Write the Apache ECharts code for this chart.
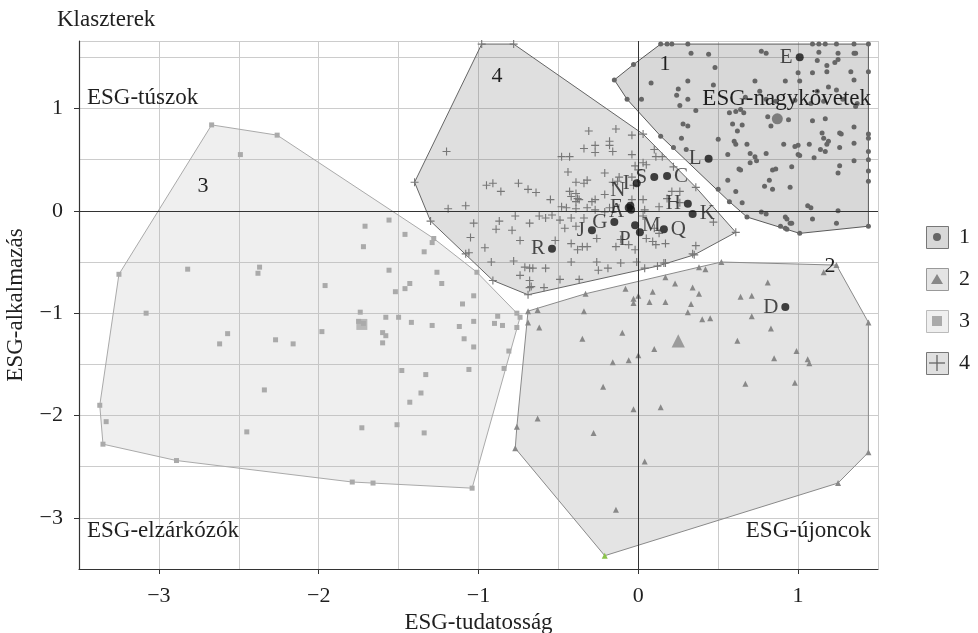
<!DOCTYPE html>
<html>
<head>
<meta charset="utf-8">
<script src="https://cdn.jsdelivr.net/npm/echarts@6/dist/echarts.min.js"></script>
<style>html,body{margin:0;padding:0;background:#fff}#c{width:978px;height:633px}</style>
</head>
<body>
<div id="c"></div>
<script>
// ---------- DATA ----------
const xTicks = [-3, -2, -1, 0, 1];
const yTicks = [-3, -2, -1, 0, 1];
const clusterNames = ['1', '2', '3', '4'];

const cluster1 = [[0.14,1.63],[0.18,1.63],[0.21,1.63],[0.31,1.63],[0.33,1.54],[0.44,1.53],[0.48,1.40],[-0.03,1.43],[-0.15,1.28],[0.08,1.25],[0.31,1.27],[0.47,1.23],[0.25,1.19],[0.24,1.13],[0.31,1.09],[-0.07,1.09],[0.02,1.09],[0.26,1.03],[0.36,0.98],[0.28,0.85],[0.31,0.83],[0.14,0.73],[0.27,0.71],[0.22,0.62],[0.50,0.70],[0.30,0.60],[0.57,0.96],[0.61,0.97],[0.64,0.99],[0.59,0.85],[0.62,0.78],[0.60,0.68],[0.61,0.65],[0.56,0.55],[0.63,0.41],[0.56,0.30],[0.61,0.19],[0.50,0.21],[0.57,0.09],
[1.09,1.63],[1.13,1.63],[1.17,1.63],[1.24,1.63],[1.35,1.63],[1.44,1.63],[0.77,1.56],[0.80,1.54],[1.13,1.55],[1.25,1.54],[1.35,1.54],[1.36,1.54],[1.18,1.42],[1.23,1.45],[1.25,1.48],[1.12,1.47],[1.33,1.36],[1.44,1.36],[1.00,1.35],[1.09,1.35],[1.18,1.36],[0.73,1.27],[0.92,1.27],[1.01,1.27],[1.35,1.28],[1.19,1.21],[1.24,1.18],[1.12,1.17],[0.76,1.17],[0.67,1.11],[0.80,1.09],[0.86,1.07],[0.98,1.08],[1.08,1.05],[1.16,1.07],[1.37,1.05],[1.36,1.02],[1.28,1.09],[0.66,0.96],[0.65,0.84],[0.81,0.92],[0.94,0.89],[1.09,0.88],[1.17,0.90],[0.83,0.83],[1.15,0.76],[1.16,0.71],[1.19,0.68],[1.18,0.65],[1.26,0.76],[1.27,0.75],[1.35,0.82],[1.44,0.75],[1.44,0.71],[1.35,0.66],[0.68,0.65],[0.91,0.65],[0.98,0.63],[1.00,0.64],[1.07,0.65],[1.14,0.60],[1.17,0.58],[1.26,0.62],[1.00,0.55],[1.01,0.54],[1.10,0.52],[0.70,0.56],[0.73,0.53],[0.80,0.56],[0.70,0.47],[0.74,0.49],[1.44,0.58],[1.44,0.50],[1.35,0.49],[0.84,0.40],[0.86,0.41],[0.96,0.43],[1.26,0.44],[1.25,0.37],[1.44,0.39],[1.44,0.29],[0.64,0.40],[0.82,0.30],[0.79,0.24],[0.84,0.21],[0.95,0.23],[0.65,0.08],[1.06,0.05],[1.08,0.03],[1.25,0.00],[0.68,-0.06],[0.77,-0.01],[0.80,-0.03],[0.92,-0.06],[0.93,-0.08],[0.95,-0.12],[0.96,-0.12],[0.89,-0.15],[0.92,-0.17],[0.93,-0.18],[1.09,-0.08],[1.24,-0.12],[1.44,-0.15],[1.01,-0.22]];

const cluster2 = [[0.52,-0.50],[1.24,-0.53],[1.44,-1.09],[1.44,-2.36],[1.25,-2.66],[-0.21,-3.37],[-0.77,-2.32],[-0.76,-2.11],[-0.69,-0.98],[-0.63,-0.97],[-0.33,-0.81],[0.38,-0.55],[0.42,-0.57],
[1.16,-0.60],[0.81,-0.70],[0.64,-0.84],[0.71,-0.83],[0.71,-1.03],[0.83,-1.15],[0.62,-1.27],[0.99,-1.37],[0.85,-1.44],[1.06,-1.45],[1.07,-1.49],[0.67,-1.69],[0.98,-1.68],[-0.08,-0.76],[0.17,-0.65],[0.23,-0.71],[0.34,-0.75],[0.38,-0.81],[0.09,-0.79],[0.00,-0.83],[-0.03,-0.86],[-0.03,-0.90],[0.07,-0.89],[0.17,-0.89],[0.33,-0.91],[0.31,-0.99],[0.40,-1.06],[0.45,-1.05],[-0.34,-0.98],[-0.62,-1.14],[-0.35,-1.25],[-0.10,-1.19],[0.10,-1.35],[0.00,-1.41],[-0.06,-1.46],[-0.16,-1.48],[-0.22,-1.72],[-0.03,-1.94],[0.14,-1.92],[-0.63,-2.03],[-0.28,-2.17],[0.04,-2.45],[-0.14,-2.92],[-0.69,-1.09]];

const cluster3 = [[-2.67,0.84],[-2.26,0.74],[-1.28,-0.27],[-1.29,-0.31],[-1.01,-0.60],[-0.76,-1.00],[-0.74,-1.04],[-0.76,-1.14],[-0.81,-1.37],[-0.84,-1.54],[-1.04,-2.71],[-1.66,-2.66],[-1.79,-2.65],[-2.89,-2.44],[-3.35,-2.28],[-3.37,-1.90],[-3.25,-0.62],
[-2.49,0.55],[-2.82,-0.57],[-3.08,-1.00],[-2.37,-0.55],[-2.38,-0.61],[-1.96,-0.73],[-2.57,-1.20],[-2.62,-1.30],[-2.27,-1.26],[-2.16,-1.30],[-1.98,-1.18],[-2.34,-1.75],[-2.45,-2.16],[-1.74,-0.99],[-1.71,-0.15],[-1.72,-0.35],[-1.56,-0.09],[-1.46,-0.23],[-1.34,-0.40],[-1.56,-0.58],[-1.26,-0.60],[-1.23,-0.71],[-1.43,-0.71],[-1.46,-0.76],[-1.52,-0.79],[-1.03,-0.83],[-1.10,-0.91],[-1.58,-1.04],[-1.50,-1.04],[-1.42,-1.09],[-1.29,-1.12],[-1.12,-1.13],[-1.03,-1.08],[-0.90,-1.10],[-0.88,-1.03],[-0.85,-1.12],[-1.60,-1.19],[-1.58,-1.22],[-1.60,-1.29],[-1.09,-1.25],[-1.03,-1.33],[-1.48,-1.56],[-1.33,-1.60],[-1.06,-1.55],[-1.36,-1.78],[-1.43,-1.87],[-1.73,-2.12],[-1.51,-2.09],[-1.34,-2.17],[-3.33,-2.06],[-1.72,-1.10],[-1.75,-1.08]];

const cluster4 = [[-0.98,1.63],[-0.78,1.63],[0.03,0.75],[0.61,-0.21],[0.35,-0.43],[0.16,-0.51],[-0.69,-0.82],[-0.91,-0.68],[-1.30,-0.10],[-1.40,0.28],
[-1.20,0.58],[-0.95,0.25],[-0.91,0.27],[-0.86,0.19],[-0.75,0.27],[-0.69,0.21],[-0.64,0.18],[-0.55,0.11],[-1.19,0.02],[-1.08,0.05],[-1.03,-0.12],[-0.87,-0.10],[-0.89,-0.18],[-0.77,-0.05],[-0.68,-0.12],[-0.62,-0.05],[-0.58,-0.07],[-0.54,-0.04],[-0.79,-0.19],[-1.05,-0.26],[-0.74,-0.29],[-0.96,-0.36],[-1.08,-0.42],[-1.06,-0.41],[-0.52,-0.29],[-0.92,-0.50],[-0.78,-0.49],[-0.71,-0.55],[-0.68,-0.56],[-0.66,-0.56],[-0.58,-0.56],[-0.74,-0.63],[-0.68,-0.68],[-0.67,-0.74],[-0.68,-0.75],[-0.59,-0.75],
[-0.31,0.78],[-0.14,0.80],[-0.04,0.74],[-0.18,0.68],[-0.18,0.64],[-0.34,0.61],[-0.27,0.64],[-0.27,0.57],[-0.16,0.58],[-0.04,0.55],[0.10,0.60],[0.11,0.53],[-0.48,0.53],[-0.43,0.53],[0.03,0.47],[0.05,0.45],[-0.02,0.44],[0.00,0.40],[0.15,0.53],[0.22,0.43],[-0.44,0.38],[-0.21,0.37],[-0.12,0.33],[-0.13,0.29],[-0.16,0.28],[-0.04,0.33],[-0.03,0.25],[-0.32,0.30],[-0.39,0.28],[-0.34,0.27],[-0.43,0.19],[-0.39,0.17],[-0.42,0.14],[-0.38,0.12],[-0.39,0.09],[-0.37,0.11],[-0.27,0.11],[-0.29,0.09],[-0.21,0.16],[-0.04,0.11],[0.03,0.11],[0.21,0.19],[0.26,0.19],[0.18,0.12],[0.13,0.04],[0.26,0.08],[0.36,0.23],[-0.48,0.04],[-0.45,0.03],[-0.39,0.02],[-0.32,0.03],[-0.27,0.01],[-0.21,-0.01],[-0.18,0.03],[0.04,0.01],[0.03,-0.05],[-0.49,-0.09],[-0.42,-0.07],[-0.34,-0.07],[-0.46,-0.17],[-0.39,-0.15],[-0.26,-0.27],[-0.32,-0.35],[-0.42,-0.32],[-0.38,-0.38],[-0.35,-0.35],[0.10,-0.17],[0.13,-0.22],[0.05,-0.27],[0.09,-0.30],[0.11,-0.33],[-0.11,-0.28],[-0.14,-0.35],[-0.06,-0.33],[-0.02,-0.38],[0.17,-0.32],[0.36,-0.34],[0.34,-0.42],[0.47,-0.11],[-0.42,-0.50],[-0.25,-0.58],[-0.19,-0.56],[-0.11,-0.51],[-0.01,-0.50],[0.04,-0.56],[0.12,-0.54],[0.17,-0.51],[-0.26,-0.50],[-0.37,-0.67],[-0.49,-0.67]];

const centroids = [[0.87,0.90],[0.25,-1.27],[-1.73,-1.11]]; // clusters 1,2,3

const pointNames = ['E','L','C','S','I','N','F','A','H','K','G','J','M','P','Q','R','D'];
const pointX = [1.01,0.44,0.18,0.10,-0.01,-0.05,-0.06,-0.045,0.31,0.34,-0.15,-0.29,-0.02,0.01,0.16,-0.54,0.92];
const pointY = [1.50,0.51,0.34,0.33,0.27,0.05,0.03,0.01,0.07,-0.03,-0.11,-0.19,-0.14,-0.21,-0.18,-0.37,-0.94];

// ---------- STYLE ----------
const FONT = 'Liberation Serif';
const TXT = '#1f1f1f';
const styles = [
  {pt:'#666666', fill:'rgba(60,60,60,0.2)', stroke:'#5a5a5a', sym:'circle', size:5, legFill:'#d8d8d8', legStroke:'#777'},
  {pt:'#888888', fill:'rgba(120,120,120,0.2)', stroke:'#8a8a8a', sym:'triangle', size:6, legFill:'#e4e4e4', legStroke:'#999'},
  {pt:'#aaaaaa', fill:'rgba(175,175,175,0.2)', stroke:'#aaaaaa', sym:'rect', size:5, legFill:'#efefef', legStroke:'#bbb'},
  {pt:'#777777', fill:'rgba(95,95,95,0.2)', stroke:'#666666', sym:'path://M4.3,0H5.7V4.3H10V5.7H5.7V10H4.3V5.7H0V4.3H4.3Z', size:8, legFill:'#e0e0e0', legStroke:'#777'}
];
const labelPlace = {E:'left',L:'left',C:'right',S:'left',I:'left',N:[-16,-22],F:'left',A:[-18,-5],H:'left',K:'right',G:'left',J:'left',M:'right',P:[-17,1],Q:'right',R:'left',D:'left'};

function convexHull(points){
  const p = points.slice().sort((a,b)=>a[0]-b[0]||a[1]-b[1]);
  const cross=(o,a,b)=>(a[0]-o[0])*(b[1]-o[1])-(a[1]-o[1])*(b[0]-o[0]);
  const lower=[];
  for(const pt of p){while(lower.length>=2&&cross(lower[lower.length-2],lower[lower.length-1],pt)<=0)lower.pop();lower.push(pt);}
  const upper=[];
  for(let i=p.length-1;i>=0;i--){const pt=p[i];while(upper.length>=2&&cross(upper[upper.length-2],upper[upper.length-1],pt)<=0)upper.pop();upper.push(pt);}
  upper.pop();lower.pop();
  return lower.concat(upper);
}

const clusters = [cluster1, cluster2, cluster3, cluster4];
const series = [];
[2,1,3,0].forEach(ci=>{
  const h = convexHull(clusters[ci]);
  const st = styles[ci];
  series.push({
    type:'custom', z:1, silent:true, clip:true,
    data:[h[0]],
    renderItem:(params, api)=>({
      type:'polygon',
      shape:{points:h.map(p=>api.coord(p))},
      style:{fill:st.fill, stroke:st.stroke, lineWidth:1}
    })
  });
});
series.push({
  type:'scatter', z:2, data:[], silent:true,
  markLine:{silent:true, symbol:'none', label:{show:false}, animation:false,
    lineStyle:{color:'#333', width:1, type:'solid'},
    data:[{xAxis:0},{yAxis:0}]}
});
clusters.forEach((pts,ci)=>{
  const st = styles[ci];
  let minIdx = -1;
  if(ci===1){ let m=Infinity; pts.forEach((p,i)=>{if(p[1]<m){m=p[1];minIdx=i;}}); }
  series.push({
    type:'scatter', z:3, symbol:st.sym, symbolSize:st.size, silent:true,
    itemStyle:{color:st.pt, opacity:1},
    data:pts.map((p,i)=> i===minIdx ? {value:p, itemStyle:{color:'#8bc34a'}} : p)
  });
});
series.push({
  type:'scatter', z:3, silent:true,
  data:centroids.map((c,i)=>({value:c, symbol:styles[i].sym, symbolSize:styles[i].size*2.2, itemStyle:{color:styles[i].pt}}))
});
series.push({
  type:'scatter', z:5, symbol:'circle', symbolSize:8, silent:true,
  itemStyle:{color:'#141414'},
  data:pointNames.map((n,i)=>{
    const pl = labelPlace[n];
    const lab = Array.isArray(pl) ? {position:pl} : {position:pl, distance:3};
    return {name:n, value:[pointX[i], pointY[i]], label:lab};
  }),
  label:{show:true, formatter:'{b}', fontFamily:FONT, fontSize:21, color:TXT}
});

const fmt = v => (v<0 ? '\u2212'+Math.abs(v) : String(v));

const legendY = [237, 279, 321, 363];
const legendEls = [];
styles.forEach((st,i)=>{
  const cy = legendY[i], x0 = 926, w = 22;
  legendEls.push({type:'rect', left:x0, top:cy-w/2, shape:{width:w, height:w}, style:{fill:st.legFill, stroke:st.legStroke, lineWidth:1}});
  let sym;
  if(i===0) sym = {type:'circle', shape:{cx:x0+w/2, cy:cy, r:4}, style:{fill:st.pt}};
  else if(i===1) sym = {type:'polygon', shape:{points:[[x0+w/2,cy-5],[x0+w/2+6,cy+5],[x0+w/2-6,cy+5]]}, style:{fill:st.pt}};
  else if(i===2) sym = {type:'rect', shape:{x:x0+w/2-5, y:cy-5, width:10, height:10}, style:{fill:st.pt}};
  else sym = {type:'group', children:[
    {type:'line', shape:{x1:x0+3, y1:cy, x2:x0+w-3, y2:cy}, style:{stroke:'#666', lineWidth:1.3}},
    {type:'line', shape:{x1:x0+w/2, y1:cy-8, x2:x0+w/2, y2:cy+8}, style:{stroke:'#666', lineWidth:1.3}}]};
  legendEls.push(sym);
  legendEls.push({type:'text', x:959, y:cy, style:{text:clusterNames[i], font:'22px "'+FONT+'"', fill:TXT, textVerticalAlign:'middle'}});
});

const textEl = (text, x, y, align, size) => ({type:'text', z:10, x:x, y:y, style:{text:text, font:size+'px "'+FONT+'"', fill:TXT, textAlign:align, textVerticalAlign:'middle'}});

const gridAxisStyle = {show:true, lineStyle:{color:'#cccccc', width:1}};
const chart = echarts.init(document.getElementById('c'), null, {renderer:'canvas'});
chart.setOption({
  animation:false,
  backgroundColor:'#ffffff',
  grid:{left:79, right:100, top:41, bottom:64, containLabel:false, outerBoundsMode:'none'},
  xAxis:[{
    type:'value', min:-3.5, max:1.5, interval:0.5, position:'bottom',
    name:'ESG-tudatosság', nameLocation:'middle', nameGap:42,
    nameTextStyle:{fontFamily:FONT, fontSize:23, color:TXT},
    axisLine:{show:true, onZero:false, lineStyle:{color:'#333', width:1.2}},
    axisTick:{show:true, customValues:xTicks, length:5, lineStyle:{color:'#333'}},
    axisLabel:{customValues:xTicks, formatter:fmt, fontFamily:FONT, fontSize:22, color:TXT, margin:16},
    splitLine:{show:false}
  },{
    type:'value', min:-3.5, max:1.5, interval:0.5, position:'top',
    axisLine:{show:false}, axisTick:{show:false}, axisLabel:{show:false},
    splitLine:gridAxisStyle
  }],
  yAxis:[{
    type:'value', min:-3.5, max:1.66, interval:0.5, position:'left',
    name:'ESG-alkalmazás', nameLocation:'middle', nameGap:52, nameRotate:90,
    nameTextStyle:{fontFamily:FONT, fontSize:23, color:TXT},
    axisLine:{show:true, onZero:false, lineStyle:{color:'#333', width:1.2}},
    axisTick:{show:true, customValues:yTicks, length:5, lineStyle:{color:'#333'}},
    axisLabel:{customValues:yTicks, formatter:fmt, fontFamily:FONT, fontSize:22, color:TXT, margin:16},
    splitLine:{show:false}
  },{
    type:'value', min:-3.5, max:1.66, interval:0.5, position:'right',
    axisLine:{show:false}, axisTick:{show:false}, axisLabel:{show:false},
    splitLine:gridAxisStyle
  }],
  graphic:[
    textEl('Klaszterek', 57, 20, 'left', 23),
    textEl('ESG-túszok', 87, 98, 'left', 23),
    textEl('ESG-nagykövetek', 871, 99, 'right', 23),
    textEl('ESG-elzárkózók', 87, 531, 'left', 23),
    textEl('ESG-újoncok', 871, 531, 'right', 23),
    textEl('1', 665, 64, 'center', 22),
    textEl('2', 830, 266, 'center', 22),
    textEl('3', 203, 186, 'center', 22),
    textEl('4', 497, 76, 'center', 22)
  ].concat(legendEls),
  series:series
});
</script>
</body>
</html>
